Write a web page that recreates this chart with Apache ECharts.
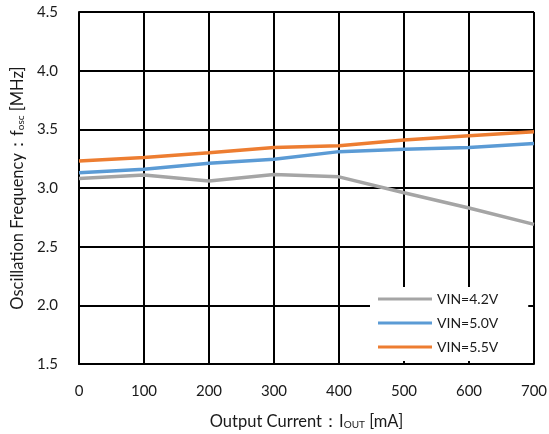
<!DOCTYPE html>
<html><head><meta charset="utf-8">
<script src="https://cdn.jsdelivr.net/npm/echarts@6/dist/echarts.min.js"></script>
<style>html,body{margin:0;padding:0;background:#fff}#c{width:549px;height:434px}</style>
</head><body><div id="c"></div>
<script>
const currents = [0, 100, 200, 300, 400, 500, 600, 700];
const vin42 = [3.08, 3.11, 3.06, 3.115, 3.095, 2.96, 2.83, 2.69];
const vin50 = [3.13, 3.16, 3.21, 3.245, 3.31, 3.33, 3.345, 3.38];
const vin55 = [3.23, 3.26, 3.30, 3.345, 3.36, 3.41, 3.445, 3.48];
const seriesNames = ['VIN=4.2V', 'VIN=5.0V', 'VIN=5.5V'];
const colors = ['#A5A5A5', '#5B9BD5', '#ED7D31'];
const font = 'Lato, "Open Sans", sans-serif';
const chart = echarts.init(document.getElementById('c'));
const mk = (name, vals, color) => ({
  name, type: 'line', data: currents.map((x, i) => [x, vals[i]]),
  symbol: 'none', lineStyle: { color, width: 3.5 }, itemStyle: { color }
});
const richName = {
  a: { fontFamily: font, fontSize: 16.5, color: '#1a1a1a' },
  b: { fontFamily: font, fontSize: 10, color: '#1a1a1a', padding: [7, 0, 0, 0] }
};
chart.setOption({
  animation: false,
  grid: { left: 79, right: 15, top: 12, bottom: 70, outerBoundsMode: 'none', containLabel: false },
  xAxis: {
    type: 'value', min: 0, max: 700, interval: 100,
    name: 'Output Current：{a|I}{b|OUT}{a| [mA]}', nameLocation: 'middle', nameGap: 49,
    nameTextStyle: { fontFamily: font, fontSize: 16.5, color: '#1a1a1a', rich: richName },
    axisLine: { lineStyle: { color: '#000', width: 2 } },
    axisTick: { show: false },
    axisLabel: { fontFamily: font, fontSize: 15, color: '#1a1a1a', margin: 20 },
    splitLine: { show: true, lineStyle: { color: '#000', width: 2 } }
  },
  yAxis: {
    type: 'value', min: 1.5, max: 4.5, interval: 0.5,
    name: 'Oscillation Frequency：{a|f}{b|osc}{a| [MHz]}', nameLocation: 'middle', nameGap: 52, nameRotate: 90,
    nameTextStyle: { fontFamily: font, fontSize: 16.5, color: '#1a1a1a', rich: richName },
    axisLine: { show: true, lineStyle: { color: '#000', width: 2 } },
    axisTick: { show: false },
    axisLabel: { fontFamily: font, fontSize: 15, color: '#1a1a1a', margin: 21, formatter: v => v.toFixed(1) },
    splitLine: { show: true, lineStyle: { color: '#000', width: 2 } }
  },
  legend: {
    orient: 'vertical', left: 370, top: 287,
    padding: [4, 30, 6, 8], backgroundColor: '#fff',
    itemWidth: 54, itemHeight: 3, itemGap: 8, icon: 'rect',
    textStyle: { fontFamily: font, fontSize: 14, color: '#1a1a1a', lineHeight: 16 },
    data: seriesNames
  },
  series: [mk(seriesNames[0], vin42, colors[0]), mk(seriesNames[1], vin50, colors[1]), mk(seriesNames[2], vin55, colors[2])]
});
</script></body></html>
